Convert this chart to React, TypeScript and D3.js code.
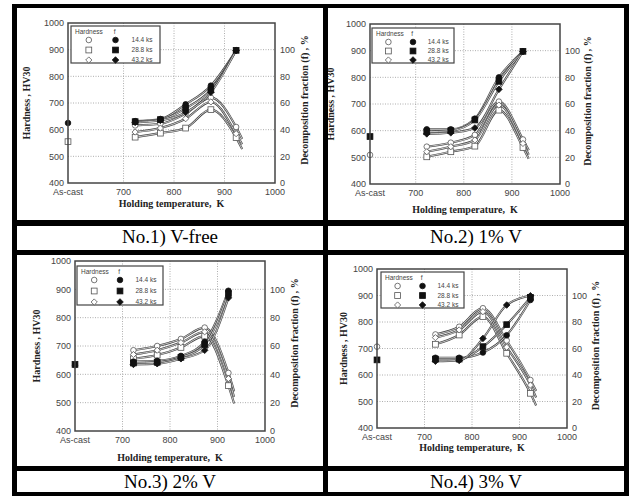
import React from 'react';
import * as d3 from 'd3';

// holding temperatures (K); hardness curves run on a little past the last point
const TEMPS = [723, 773, 823, 873, 923];
const TAIL_T = 935;
const HOLD_TIMES = ['14.4 ks', '28.8 ks', '43.2 ks'];
const SHAPES = ['circle', 'square', 'diamond'];
const HV_TICKS = [400, 500, 600, 700, 800, 900, 1000];
const F_TICKS = [0, 20, 40, 60, 80, 100];
const X_TICKS = [700, 800, 900, 1000];
const CAPTIONS = ['No.1) V-free', 'No.2) 1% V', 'No.3) 2% V', 'No.4) 3% V'];

// hardness HV30, one row per holding time: 723..923 K, then the tail end
const hv1 = [[616, 622, 660, 720, 610, 565], [572, 587, 606, 675, 570, 527], [591, 606, 641, 704, 585, 545]];
const hv2 = [[540, 555, 584, 709, 567, 527], [502, 521, 542, 677, 537, 495], [521, 540, 565, 696, 552, 510]];
const hv3 = [[685, 700, 725, 765, 605, 540], [655, 668, 695, 735, 560, 497], [670, 685, 712, 750, 585, 520]];
const hv4 = [[753, 782, 852, 730, 581, 540], [716, 751, 820, 682, 531, 485], [741, 770, 839, 705, 562, 515]];

// decomposition fraction f (%)
const f1 = [[46.4, 48, 59, 73, 99.5], [46, 47.5, 56, 70, 99.5], [45.5, 47, 53, 68, 99.5]];
const f2 = [[41, 41, 49, 80, 99.5], [39.2, 40, 48, 77, 99.5], [37.6, 38.4, 42, 71, 99.5]];
const f3 = [[49, 49.5, 53, 63, 99], [48, 48.5, 52, 61, 97], [47, 47.5, 51, 57, 94]];
const f4 = [[53, 53, 57, 70, 96.6], [52, 52, 61.4, 78, 98.6], [50.4, 51, 67.6, 92.8, 99.8]];

// as-cast values: hardness, f
const asCastHv = [555, 509, 632, 707];
const asCastF = [45, 35.6, 47, 51.4];
const asCastOpen = ['square', 'circle', 'circle', 'circle'];
const asCastFilled = ['circle', 'square', 'square', 'square'];

const panels = [
  { left: 68, right: 275, top: 23, bottom: 183, xMin: 590, lt: 30, rt: 308, xt: 207, lg: [71, 26, 89, 37], hv: hv1, f: f1 },
  { left: 370, right: 560, top: 24, bottom: 184, xMin: 605, lt: 334, rt: 591, xt: 213, lg: [372, 28, 82, 35], hv: hv2, f: f2 },
  { left: 75, right: 265, top: 261, bottom: 431, xMin: 600, lt: 40, rt: 298, xt: 461, lg: [77, 266, 86, 39], hv: hv3, f: f3 },
  { left: 377, right: 567, top: 269, bottom: 428, xMin: 600, lt: 347, rt: 599, xt: 451, lg: [381, 272, 83, 36], hv: hv4, f: f4 },
];

const SANS = '"Liberation Sans", Arial, sans-serif';
const SERIF = '"Liberation Serif", "Times New Roman", serif';

function Marker({ shape, cx, cy, filled }: { shape: string; cx: number; cy: number; filled: boolean }) {
  const fill = filled ? '#111' : '#fff';
  const stroke = filled ? '#111' : '#555';
  if (shape === 'circle') return <circle cx={cx} cy={cy} r={2.8} fill={fill} stroke={stroke} strokeWidth={0.8} />;
  if (shape === 'square') return <rect x={cx - 2.9} y={cy - 2.9} width={5.8} height={5.8} fill={fill} stroke={stroke} strokeWidth={0.8} />;
  const r = filled ? 3.3 : 3.1;
  return <polygon points={`${cx},${cy - r} ${cx + r},${cy} ${cx},${cy + r} ${cx - r},${cy}`} fill={fill} stroke={stroke} strokeWidth={0.8} />;
}

function Panel({ p, idx }: { p: any; idx: number }) {
  const x = d3.scaleLinear().domain([p.xMin, 1000]).range([p.left, p.right]);
  const y = d3.scaleLinear().domain([400, 1000]).range([p.bottom, p.top]);
  const yf = d3.scaleLinear().domain([0, 120]).range([p.bottom, p.top]);
  const line = d3.line<[number, number]>().x(d => d[0]).y(d => d[1]).curve(d3.curveMonotoneX);
  const hvPts = p.hv.map((s: number[]) => s.map((v, i) => [x(i < TEMPS.length ? TEMPS[i] : TAIL_T), y(v)] as [number, number]));
  const fPts = p.f.map((s: number[]) => s.map((v, i) => [x(TEMPS[i]), yf(v)] as [number, number]));
  const [lx, ly, lw, lh] = p.lg;
  const midY = (p.top + p.bottom) / 2;
  const all = [...hvPts, ...fPts];
  return (
    <g>
      {HV_TICKS.slice(1, -1).map(t => (
        <line key={'h' + t} x1={p.left} x2={p.right} y1={y(t)} y2={y(t)} stroke="#999" strokeWidth={0.8} strokeDasharray="1,1.5" />
      ))}
      {X_TICKS.slice(0, -1).map(t => (
        <line key={'v' + t} x1={x(t)} x2={x(t)} y1={p.top} y2={p.bottom} stroke="#999" strokeWidth={0.8} strokeDasharray="1,1.5" />
      ))}
      {all.map((pts: [number, number][], i: number) => (
        <g key={'l' + i}>
          <path d={line(pts) || ''} fill="none" stroke="#444" strokeWidth={2.1} />
          <path d={line(pts) || ''} fill="none" stroke="#fff" strokeWidth={0.7} />
        </g>
      ))}
      {hvPts.map((pts: [number, number][], s: number) =>
        pts.slice(0, TEMPS.length).map((d, i) => <Marker key={`o${s}-${i}`} shape={SHAPES[s]} cx={d[0]} cy={d[1]} filled={false} />)
      )}
      {fPts.map((pts: [number, number][], s: number) =>
        pts.map((d, i) => <Marker key={`f${s}-${i}`} shape={SHAPES[s]} cx={d[0]} cy={d[1]} filled={true} />)
      )}
      <Marker shape={asCastOpen[idx]} cx={x(p.xMin)} cy={y(asCastHv[idx])} filled={false} />
      <Marker shape={asCastFilled[idx]} cx={x(p.xMin)} cy={yf(asCastF[idx])} filled={true} />
      <rect x={p.left} y={p.top} width={p.right - p.left} height={p.bottom - p.top} fill="none" stroke="#444" strokeWidth={1.5} />
      {/* legend */}
      <rect x={lx} y={ly} width={lw} height={lh} fill="#fff" stroke="#444" strokeWidth={1.2} />
      <text x={lx + 4} y={ly + 7.5} fontSize={6.5} fontFamily={SANS} fill="#444">Hardness</text>
      <text x={lx + lw * 0.48} y={ly + 7.5} fontSize={6.5} fontFamily={SANS} fill="#444">f</text>
      {HOLD_TIMES.map((t, i) => {
        const ry = ly + 14 + i * (lh - 17) / 2;
        return (
          <g key={t}>
            <Marker shape={SHAPES[i]} cx={lx + lw * 0.2} cy={ry} filled={false} />
            <Marker shape={SHAPES[i]} cx={lx + lw * 0.5} cy={ry} filled={true} />
            <text x={lx + lw * 0.68} y={ry + 2.3} fontSize={6.5} fontFamily={SANS} fill="#444">{t}</text>
          </g>
        );
      })}
      {HV_TICKS.map(t => (
        <text key={'yl' + t} x={p.left - 4} y={y(t) + 3.2} fontSize={9} textAnchor="end" fontFamily={SANS} fill="#444">{t}</text>
      ))}
      {F_TICKS.map(t => (
        <text key={'fl' + t} x={p.right + 5} y={yf(t) + 3.2} fontSize={9} fontFamily={SANS} fill="#444">{t}</text>
      ))}
      <text x={x(p.xMin)} y={p.bottom + 12} fontSize={9} textAnchor="middle" fontFamily={SANS} fill="#444">As-cast</text>
      {X_TICKS.map(t => (
        <text key={'xl' + t} x={x(t)} y={p.bottom + 12} fontSize={9} textAnchor="middle" fontFamily={SANS} fill="#444">{t}</text>
      ))}
      <text x={(p.left + p.right) / 2} y={p.xt} fontSize={10} fontWeight="bold" textAnchor="middle" fontFamily={SERIF} fill="#222" style={{ whiteSpace: 'pre' }}>Holding temperature,  K</text>
      <text transform={`translate(${p.lt},${midY}) rotate(-90)`} fontSize={10} fontWeight="bold" textAnchor="middle" fontFamily={SERIF} fill="#222">Hardness , HV30</text>
      <text transform={`translate(${p.rt},${midY - 3}) rotate(-90)`} fontSize={10} fontWeight="bold" textAnchor="middle" fontFamily={SERIF} fill="#222">Decomposition fraction (f) , %</text>
    </g>
  );
}

export default function App() {
  const bars: [number, number, number, number][] = [
    [12, 4, 617, 4], [12, 220, 617, 6], [12, 250, 617, 5], [12, 466, 617, 5], [12, 492, 617, 4],
    [12, 4, 5, 492], [323, 4, 5, 492], [624, 4, 5, 492],
  ];
  const capY = [243, 488];
  const colX = [170, 476];
  return (
    <div style={{ position: 'absolute', left: 0, top: 0 }}>
      <svg width={629} height={496} style={{ display: 'block' }}>
        <rect width={629} height={496} fill="#fff" />
        {panels.map((p, i) => <Panel key={i} p={p} idx={i} />)}
        {bars.map((b, i) => <rect key={i} x={b[0]} y={b[1]} width={b[2]} height={b[3]} fill="#000" />)}
        {CAPTIONS.map((c, i) => (
          <text key={c} x={colX[i % 2]} y={capY[Math.floor(i / 2)]} fontSize={19} textAnchor="middle" fontFamily={SERIF} fill="#000">{c}</text>
        ))}
      </svg>
    </div>
  );
}
